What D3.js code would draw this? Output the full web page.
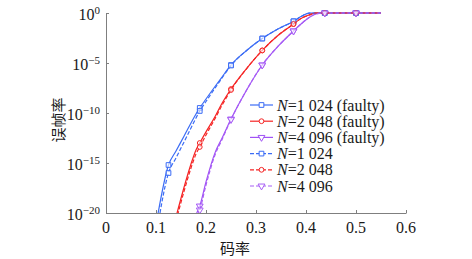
<!DOCTYPE html>
<html>
<head>
<meta charset="utf-8">
<script src="https://cdn.jsdelivr.net/npm/d3@7"></script>
<style>
    body { margin: 0; background: #fff; }
    svg text { fill: #1a1a1a; }
</style>
</head>
<body>
<div id="chart"></div>
<script>
// code rate grid shared by all curves
const rates = [0.10, 0.125, 0.14, 0.15625, 0.17, 0.18, 0.1875, 0.2, 0.21875, 0.23125, 0.25,
    0.28125, 0.3125, 0.34375, 0.375, 0.39, 0.40625, 0.42, 0.4375, 0.5, 0.55];

// frame error rate per series (null = not simulated / off chart)
const fer1024Faulty = [6.3e-22, 6.3e-16, 1.6e-14, 5.0e-13, 1.0e-11, 7.9e-11, 3.2e-10, 2.5e-9, 5.0e-8, 3.5e-7, 6.3e-6,
    1.8e-4, 2.8e-3, 2.5e-2, 0.148, 0.45, 0.95, 1, 1, 1, 1];
const fer2048Faulty = [null, null, 4.0e-21, 4.0e-18, 7.9e-16, 2.0e-14, 1.0e-13, 1.3e-12, 5.0e-11, 7.9e-10, 2.5e-8,
    2.8e-6, 1.8e-4, 5.6e-3, 0.079, 0.28, 0.63, 1, 1, 1, 1];
const fer4096Faulty = [null, null, null, null, 1.0e-22, 6.3e-21, 5.0e-20, 1.3e-17, 1.3e-14, 2.5e-13, 2.5e-11,
    2.0e-8, 6.3e-6, 4.5e-4, 0.016, 0.079, 0.355, 0.79, 1, 1, 1];
const fer1024 = [4.0e-23, 1.0e-16, 3.2e-15, 1.3e-13, 3.2e-12, 3.2e-11, 1.6e-10, 1.4e-9, 3.5e-8, 2.8e-7, 5.6e-6,
    1.8e-4, 2.8e-3, 2.5e-2, 0.148, 0.45, 0.95, 1, 1, 1, 1];
const fer2048 = [null, null, 1.6e-21, 1.6e-18, 3.2e-16, 7.9e-15, 4.0e-14, 6.3e-13, 3.2e-11, 5.0e-10, 2.0e-8,
    2.8e-6, 1.8e-4, 5.6e-3, 0.079, 0.28, 0.63, 1, 1, 1, 1];
const fer4096 = [null, null, null, null, 3.2e-23, 2.5e-21, 2.0e-20, 6.3e-18, 7.9e-15, 1.8e-13, 2.2e-11,
    2.0e-8, 6.3e-6, 4.5e-4, 0.016, 0.079, 0.355, 0.79, 1, 1, 1];

// rates where markers are drawn
const markerRates = [0.125, 0.1875, 0.25, 0.3125, 0.375, 0.4375, 0.5];

const seriesNames = ["1 024 (faulty)", "2 048 (faulty)", "4 096 (faulty)", "1 024", "2 048", "4 096"];
const xTicks = [0, 0.1, 0.2, 0.3, 0.4, 0.5, 0.6];
const yTicks = [1e0, 1e-5, 1e-10, 1e-15, 1e-20];
const yTickExp = ["0", "\u22125", "\u221210", "\u221215", "\u221220"];

const series = [
    { name: seriesNames[0], values: fer1024Faulty, color: "#3b6cf5", dash: null, shape: "square" },
    { name: seriesNames[1], values: fer2048Faulty, color: "#f52424", dash: null, shape: "circle" },
    { name: seriesNames[2], values: fer4096Faulty, color: "#a052f5", dash: null, shape: "triangle" },
    { name: seriesNames[3], values: fer1024, color: "#3b6cf5", dash: "4,2", shape: "square" },
    { name: seriesNames[4], values: fer2048, color: "#f52424", dash: "4,2", shape: "circle" },
    { name: seriesNames[5], values: fer4096, color: "#a85ef5", dash: "4,2", shape: "triangle" }
];

const width = 472, height = 259;
const plot = { left: 106, right: 406, top: 13, bottom: 213 };

const svg = d3.select("#chart").append("svg")
    .attr("width", width)
    .attr("height", height);

// scales
const x = d3.scaleLinear().domain([0, 0.6]).range([plot.left, plot.right]);
const y = d3.scaleLog().domain([1e-20, 1]).range([plot.bottom, plot.top]);

// clip region so curves stop at the bottom axis
svg.append("defs").append("clipPath").attr("id", "plot-clip")
    .append("rect")
    .attr("x", plot.left).attr("y", 0)
    .attr("width", plot.right - plot.left + 60)
    .attr("height", plot.bottom);

// axes
const xAxis = svg.append("g")
    .attr("transform", `translate(0,${plot.bottom})`)
    .call(d3.axisBottom(x).tickValues(xTicks).tickSize(-3).tickSizeOuter(0).tickFormat(""));
const yAxis = svg.append("g")
    .attr("transform", `translate(${plot.left},0)`)
    .call(d3.axisLeft(y).tickValues(yTicks).tickSize(-3).tickSizeOuter(0).tickFormat(""));
[xAxis, yAxis].forEach(g => {
    g.select(".domain").attr("stroke", "#7f7f7f");
    g.selectAll(".tick line").attr("stroke", "#7f7f7f");
});

// x tick labels
svg.append("g").selectAll("text")
    .data(xTicks)
    .join("text")
    .attr("x", d => x(d))
    .attr("y", 233)
    .attr("text-anchor", "middle")
    .attr("font-family", "Liberation Serif, serif")
    .attr("font-size", 16)
    .text(d => d3.format("")(d));

// y tick labels with exponents
const yLab = svg.append("g").selectAll("text")
    .data(yTicks)
    .join("text")
    .attr("x", 100)
    .attr("y", d => y(d) + 7)
    .attr("text-anchor", "end")
    .attr("font-family", "Liberation Serif, serif")
    .attr("font-size", 16);
yLab.append("tspan").text("10");
yLab.append("tspan")
    .attr("dy", -6)
    .attr("font-size", 11)
    .text((d, i) => yTickExp[i]);

// axis titles
svg.append("text")
    .attr("x", 235)
    .attr("y", 254)
    .attr("text-anchor", "middle")
    .attr("font-family", "Noto Sans CJK SC, sans-serif")
    .attr("font-size", 15)
    .text("码率");

svg.append("text")
    .attr("transform", "translate(64,120) rotate(-90)")
    .attr("text-anchor", "middle")
    .attr("font-family", "Noto Sans CJK SC, sans-serif")
    .attr("font-size", 15)
    .text("误帧率");

// curves
const line = d3.line()
    .defined(d => d.fer !== null)
    .x(d => x(d.rate))
    .y(d => y(d.fer))
    .curve(d3.curveMonotoneX);

const symbolFor = {
    square: d3.symbol().type(d3.symbolSquare).size(22),
    circle: d3.symbol().type(d3.symbolCircle).size(18),
    triangle: d3.symbol().type(d3.symbolTriangle).size(20)
};

const curves = svg.append("g").attr("clip-path", "url(#plot-clip)");

series.forEach(s => {
    const pts = rates.map((r, i) => ({ rate: r, fer: s.values[i] }));
    curves.append("path")
        .datum(pts)
        .attr("fill", "none")
        .attr("stroke", s.color)
        .attr("stroke-width", 1.2)
        .attr("stroke-dasharray", s.dash)
        .attr("d", line);

    const marks = pts.filter(d => d.fer !== null && d.fer >= 1e-20 && markerRates.includes(d.rate));
    curves.selectAll(null)
        .data(marks)
        .join("path")
        .attr("transform", d => `translate(${x(d.rate)},${y(d.fer)})` + (s.shape === "triangle" ? " rotate(180)" : ""))
        .attr("d", symbolFor[s.shape]())
        .attr("fill", "#fff")
        .attr("fill-opacity", 0.6)
        .attr("stroke", s.color)
        .attr("stroke-width", 1);
});

// legend
const legend = svg.append("g").attr("transform", "translate(250,105)");
const rows = legend.selectAll("g")
    .data(series)
    .join("g")
    .attr("transform", (d, i) => `translate(0,${i * 16.2})`);

rows.append("line")
    .attr("x1", 0).attr("x2", 23)
    .attr("stroke", d => d.color)
    .attr("stroke-width", 1.2)
    .attr("stroke-dasharray", d => d.dash);

rows.append("path")
    .attr("transform", d => `translate(11.5,0)` + (d.shape === "triangle" ? " rotate(180)" : ""))
    .attr("d", d => symbolFor[d.shape]())
    .attr("fill", "#fff")
    .attr("stroke", d => d.color);

const labels = rows.append("text")
    .attr("x", 27)
    .attr("y", 5.5)
    .attr("font-family", "Liberation Serif, serif")
    .attr("font-size", 16);
labels.append("tspan").attr("font-style", "italic").text("N");
labels.append("tspan").text(d => "=" + d.name);
</script>
</body>
</html>
